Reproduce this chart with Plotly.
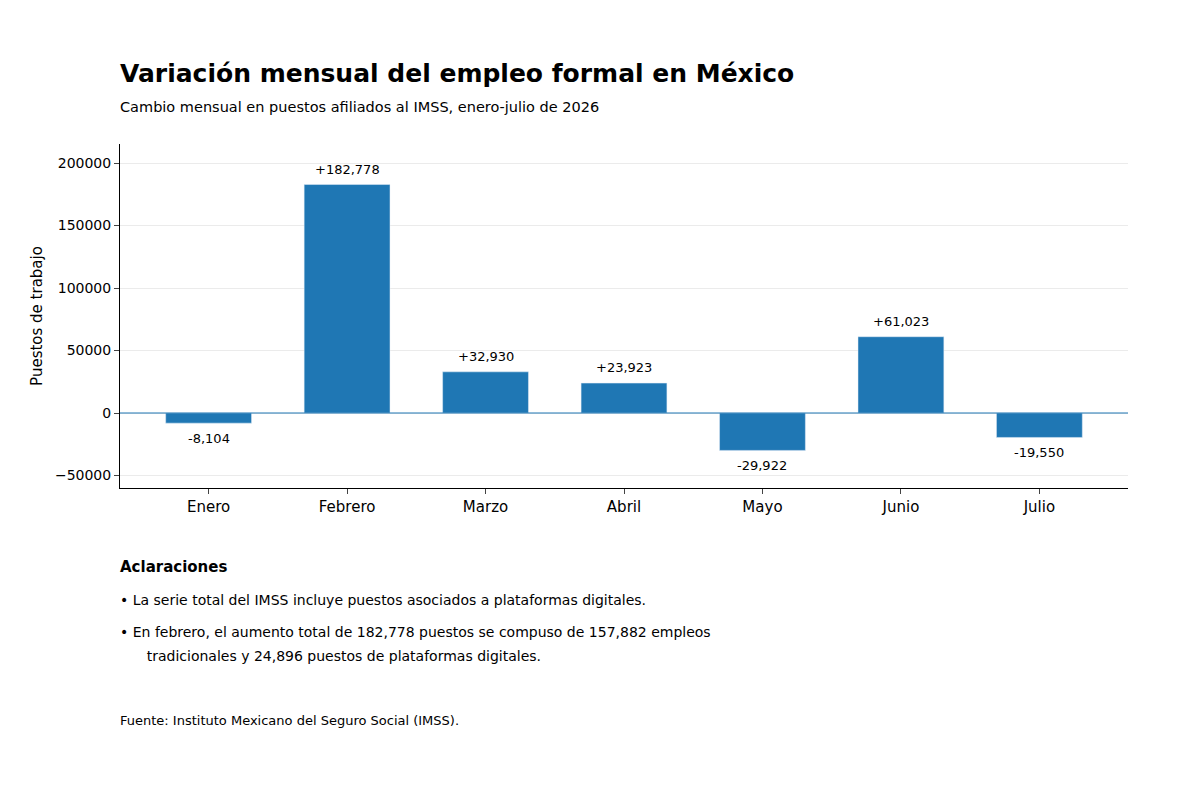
import plotly.graph_objects as go

months = ["Enero", "Febrero", "Marzo", "Abril", "Mayo", "Junio", "Julio"]
changes = [-8104, 182778, 32930, 23923, -29922, 61023, -19550]
labels = [f"{v:+,}" for v in changes]

FONT = "DejaVu Sans"
W, H = 1200, 800
OFF = 8  # page body margin
L, R, T, B = 112, 80, 136, 320
ph = H - T - B


def py(pix):
    # pixel y (in the screenshot) -> paper coordinate
    return (H - B - (pix - OFF)) / ph


fig = go.Figure(go.Bar(x=months, y=changes, width=0.62, marker_color="#1f77b4"))

for m, v, t in zip(months, changes, labels):
    fig.add_annotation(x=m, y=v, text=t, showarrow=False,
                       yanchor="bottom" if v > 0 else "top",
                       yshift=6 if v > 0 else -6,
                       font=dict(family=FONT, size=13, color="black"))

fig.add_hline(y=0, line_color="#1f77b4", line_width=1.2)

notes = [
    ("<b>Aclaraciones</b>", 567, 15),
    ("• La serie total del IMSS incluye puestos asociados a plataformas digitales.", 600, 14),
    ("• En febrero, el aumento total de 182,778 puestos se compuso de 157,882 empleos", 632, 14),
    ("      tradicionales y 24,896 puestos de plataformas digitales.", 656, 14),
    ("Fuente: Instituto Mexicano del Seguro Social (IMSS).", 720, 13),
    ("<b>Variación mensual del empleo formal en México</b>", 73, 25),
    ("Cambio mensual en puestos afiliados al IMSS, enero-julio de 2026", 107, 14.5),
]
for txt, y, s in notes:
    fig.add_annotation(text=txt, xref="paper", yref="paper", x=0, y=py(y), xshift=-2,
                       xanchor="left", yanchor="middle", showarrow=False,
                       font=dict(family=FONT, size=s, color="black"))

fig.update_layout(
    width=W, height=H, margin=dict(l=L, r=R, t=T, b=B),
    plot_bgcolor="white", paper_bgcolor="white",
    font=dict(family=FONT, size=13, color="black"),
    showlegend=False,
)
fig.update_xaxes(range=[-0.64, 6.64], showline=True, linecolor="black", ticks="outside",
                 ticklen=5, tickfont=dict(size=15))
fig.update_yaxes(range=[-60000, 215200], tickvals=[-50000, 0, 50000, 100000, 150000, 200000],
                 tickformat="d", showline=True, linecolor="black", ticks="outside", ticklen=5,
                 gridcolor="#ebebeb", zeroline=False,
                 title=dict(text="Puestos de trabajo", font=dict(size=15), standoff=8),
                 tickfont=dict(size=14))

fig.write_html("out.html")
